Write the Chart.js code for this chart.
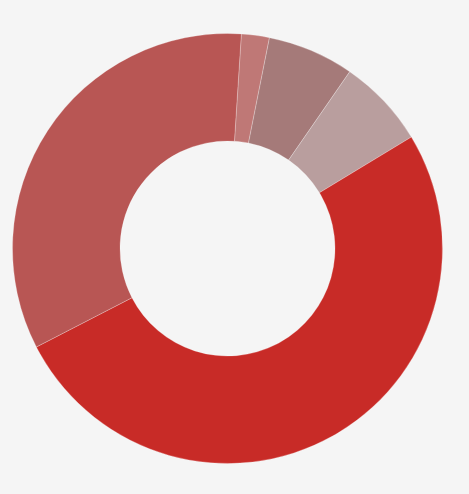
<!DOCTYPE html>
<html>
<head>
<meta charset="utf-8">
<script src="https://cdn.jsdelivr.net/npm/chart.js@4"></script>
<style>
  html, body { margin: 0; padding: 0; background: #f5f5f5; }
  body { width: 469px; height: 494px; position: relative; overflow: hidden; }
  #wrap { position: absolute; left: 12px; top: 33px; width: 431px; height: 431px; }
</style>
</head>
<body>
<div id="wrap"><canvas id="donut"></canvas></div>
<script>
// segments listed clockwise, starting just right of 12 o'clock
const labels = ['Segment A', 'Segment B', 'Segment C', 'Segment D', 'Segment E'];
const values = [2.1, 6.5, 6.7, 51.1, 33.6];
const colors = ['#bf7876', '#a57a79', '#b99e9e', '#c82b27', '#b85654'];

new Chart(document.getElementById('donut'), {
  type: 'doughnut',
  data: {
    labels: labels,
    datasets: [{
      data: values,
      backgroundColor: colors,
      borderColor: 'rgba(255,255,255,0.25)',
      borderWidth: 1,
      hoverOffset: 0
    }]
  },
  options: {
    responsive: true,
    maintainAspectRatio: false,
    animation: false,
    cutout: '50%',
    rotation: 3.7,
    layout: { padding: 0 },
    plugins: {
      legend: { display: false },
      tooltip: { enabled: false }
    }
  }
});
</script>
</body>
</html>
